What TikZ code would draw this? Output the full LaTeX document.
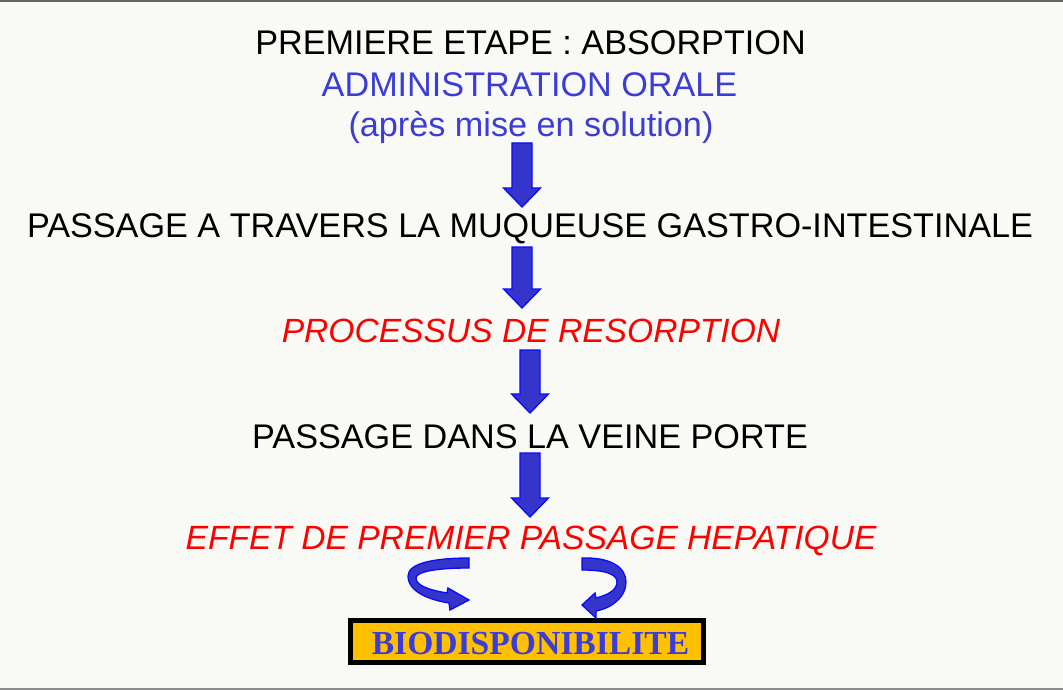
\documentclass[tikz,border=0pt]{standalone}
\usepackage{fontspec}
\setmainfont{Liberation Sans}
\newfontfamily\serifbold{Liberation Serif}[BoldFont={Liberation Serif Bold}]
\usetikzlibrary{calc}
\definecolor{bgcol}{RGB}{249,250,245}
\definecolor{txtblue}{RGB}{60,60,215}
\definecolor{arrfill}{RGB}{53,53,204}
\definecolor{arredge}{RGB}{10,10,255}
\definecolor{boxfill}{RGB}{255,192,0}
\definecolor{txtred}{RGB}{255,0,0}
\tikzset{
  lbl/.style={anchor=base, inner sep=0pt, font=\fontsize{34.2}{40}\selectfont},
  blk/.style={lbl, text=black},
  blu/.style={lbl, text=txtblue},
  red/.style={lbl, text=txtred, font=\fontsize{33.6}{40}\selectfont\itshape},
  arrowshape/.style={fill=arrfill, draw=arredge, line width=1.3pt, line join=miter},
  bio/.style={draw=black, line width=5pt, fill=boxfill, minimum width=353pt, minimum height=42pt, inner sep=0pt},
  biotext/.style={anchor=base, inner sep=0pt, text=txtblue, font=\fontsize{33.6}{36}\selectfont\serifbold\bfseries}
}
\newcommand\blockarrow[2]{%
  \filldraw[arrowshape] let \p1=(#1), \p2=(#2) in
    (\x1-10,\y1) -- (\x1+10,\y1) -- (\x1+10,\y2+19) -- (\x1+18.5,\y2+19) -- (\x1,\y2)
    -- (\x1-18.5,\y2+19) -- (\x1-10,\y2+19) -- cycle;}
\begin{document}
\begin{tikzpicture}[x=1pt,y=-1pt]
\useasboundingbox (0,0) rectangle (1063,690);
\fill[bgcol] (0,0) rectangle (1063,690);
\fill[black!60] (0,0) rectangle (1063,1.8);
\fill[black!45] (0,688.2) rectangle (1063,690);

\node[blk] (t1) at (530.5,55) {PREMIERE ETAPE : ABSORPTION};
\node[blu] (t2) at (529.5,97) {ADMINISTRATION ORALE};
\node[blu] (t3) at (531,137) {(après mise en solution)};
\node[blk] (t4) at (530,237) {PASSAGE A TRAVERS LA MUQUEUSE GASTRO-INTESTINALE};
\node[red] (t5) at (531,342) {PROCESSUS DE RESORPTION};
\node[blk] (t6) at (530,448) {PASSAGE DANS LA VEINE PORTE};
\node[red] (t7) at (531,549) {EFFET DE PREMIER PASSAGE HEPATIQUE};
\node[bio] (bio) at (527,641.5) {};
\node[biotext] (biot) at (530.5,654) {BIODISPONIBILITE};

\coordinate (a1s) at (522,143); \coordinate (a1e) at (522,207);
\coordinate (a2s) at (522,247); \coordinate (a2e) at (522,308);
\coordinate (a3s) at (530,350); \coordinate (a3e) at (530,413);
\coordinate (a4s) at (530,453); \coordinate (a4e) at (530,517);
\blockarrow{a1s}{a1e}
\blockarrow{a2s}{a2e}
\blockarrow{a3s}{a3e}
\blockarrow{a4s}{a4e}

% curved arrows
\filldraw[arrowshape] (469,558) .. controls (435,558) and (408,563) .. (408,576)
  .. controls (408,592) and (430,600) .. (449,603) -- (450,610) -- (469,600) -- (448,588)
  -- (447,593) .. controls (430,590) and (416,586) .. (416,578)
  .. controls (416,572) and (435,568) .. (469,568) -- cycle;
\filldraw[arrowshape] (582,558) .. controls (610,557) and (626,567) .. (626,582)
  .. controls (626,597) and (612,608) .. (596,611) -- (596,618) -- (582,605) -- (595,593)
  -- (596,598) .. controls (608,595) and (617,590) .. (617,582)
  .. controls (617,574) and (605,570) .. (582,570) -- cycle;
\end{tikzpicture}
\end{document}
